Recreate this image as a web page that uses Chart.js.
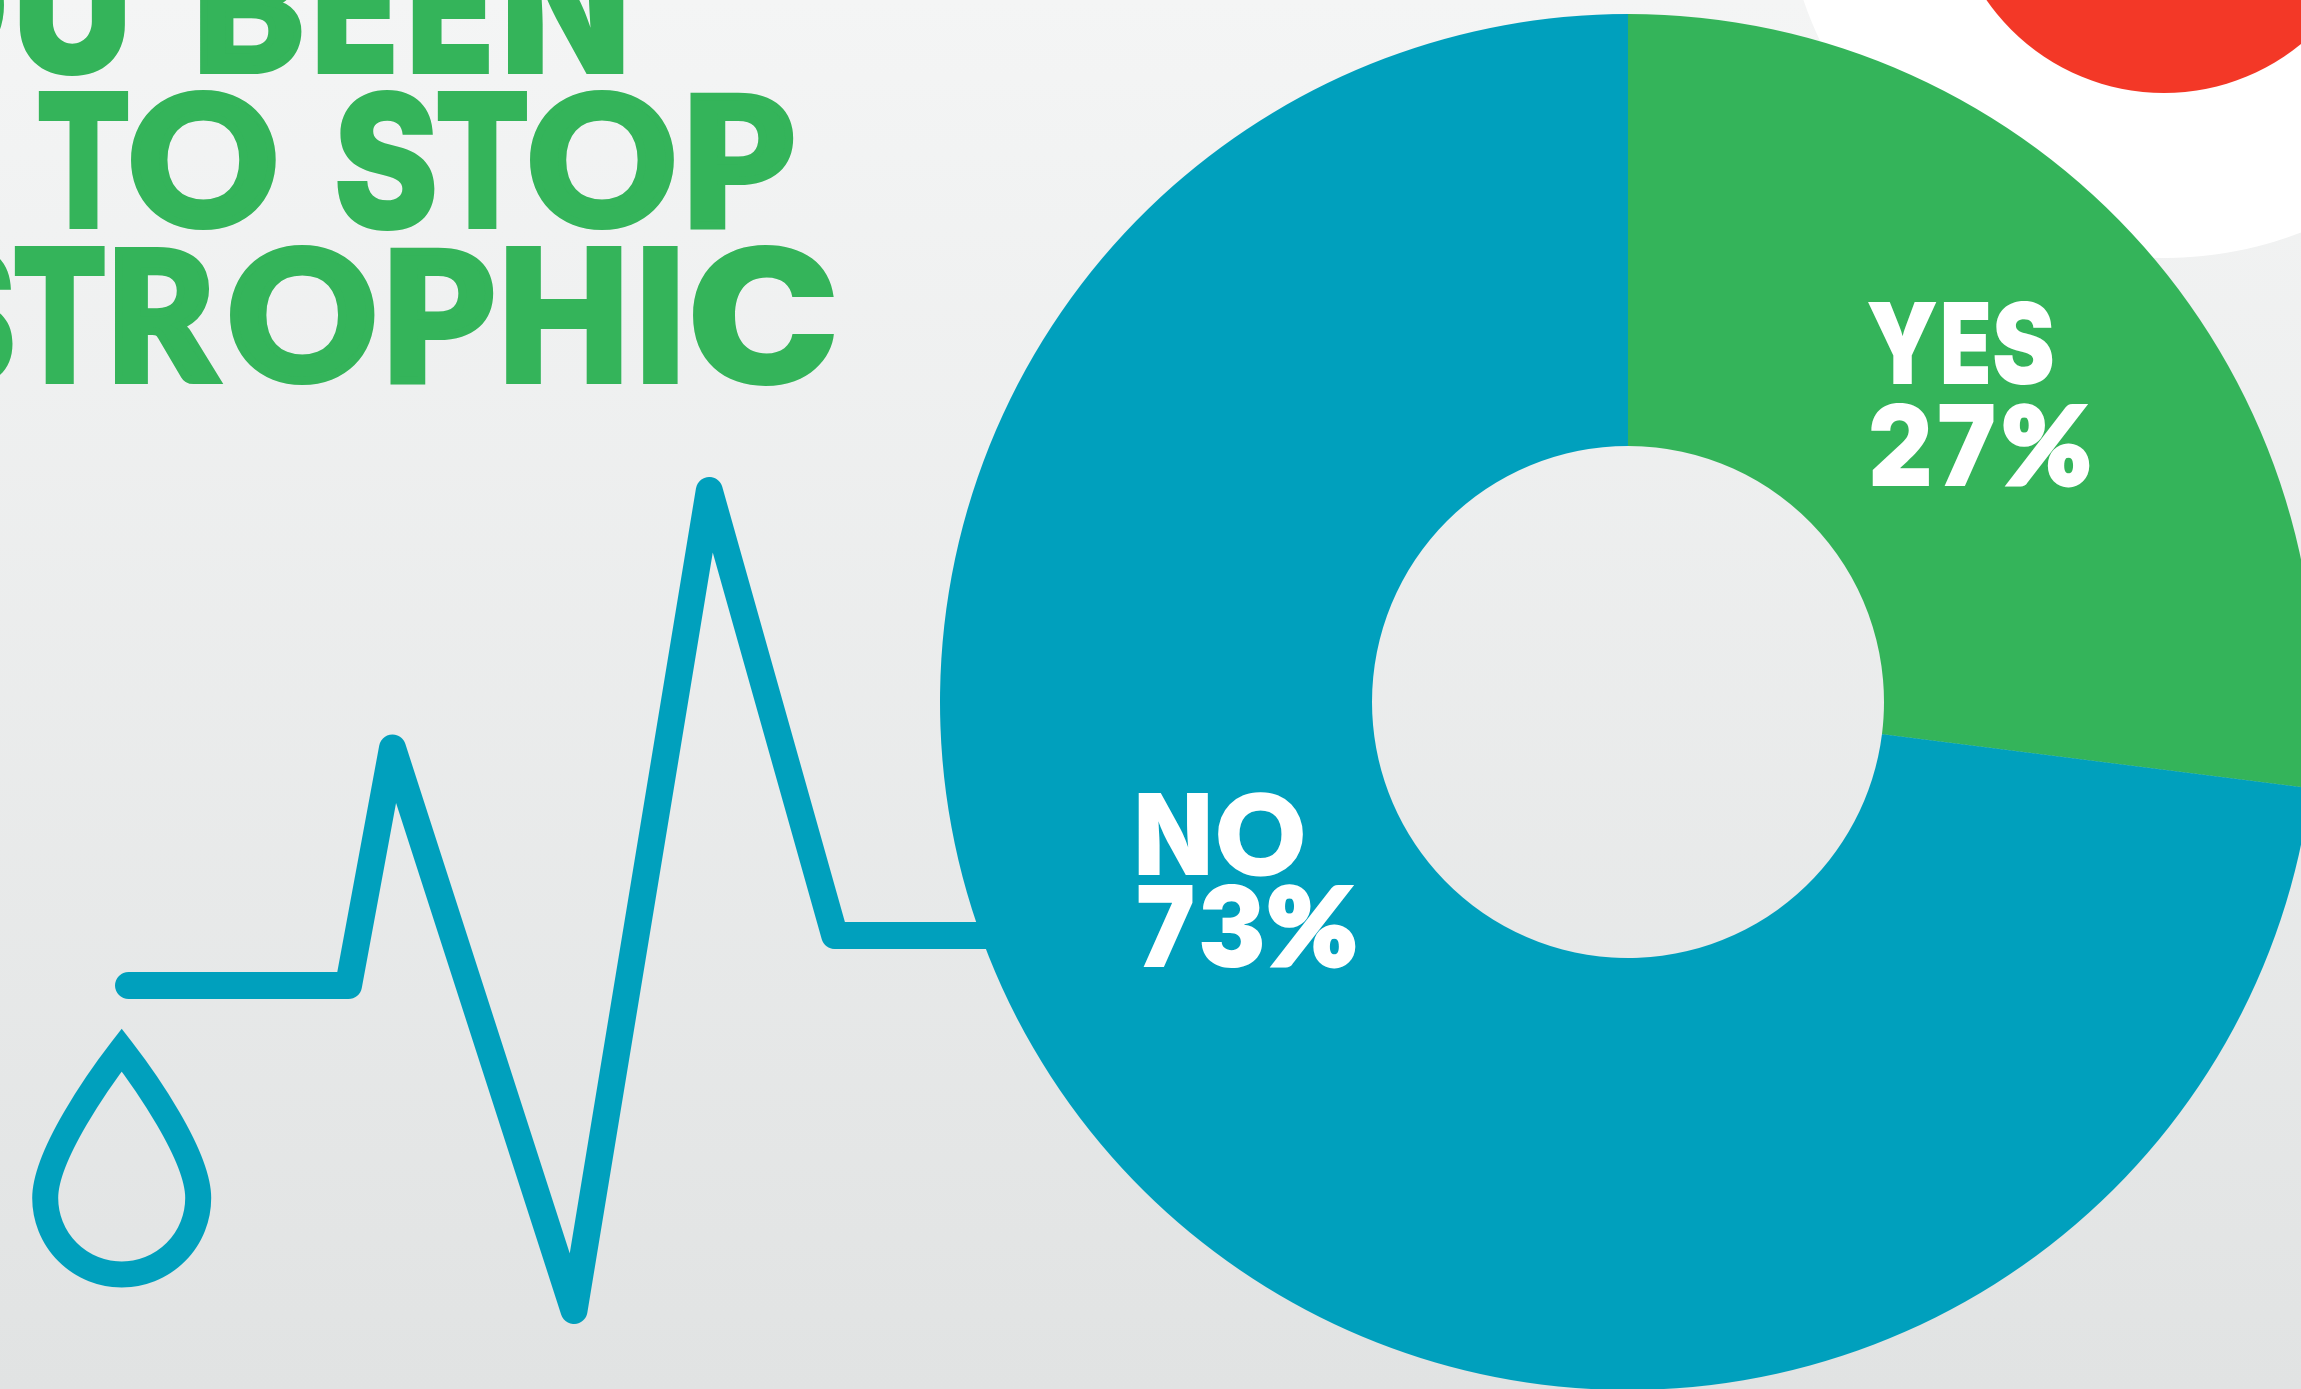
<!DOCTYPE html>
<html>
<head>
<meta charset="utf-8">
<style>
html,body{margin:0;padding:0;width:2301px;height:1389px;overflow:hidden;background:linear-gradient(180deg,#f4f5f5 0%,#e1e3e3 100%);}
#stage{position:relative;width:2301px;height:1389px;overflow:hidden;}
canvas{position:absolute;display:block;}
.txt{position:absolute;left:0;top:0;white-space:pre;font-family:Lato,sans-serif;font-weight:900;line-height:1;}
.txt span{display:inline-block;transform-origin:0 0;vertical-align:baseline;}
</style>
</head>
<body>
<div id="stage">
<canvas id="ecg" style="left:0;top:0"></canvas>
<canvas id="donut" style="left:940px;top:14px"></canvas>
</div>
<script src="https://cdn.jsdelivr.net/npm/chart.js@4"></script>
<script>
const categories = ['YES', 'NO'];
const shares = [27, 73];
const sliceColors = ['#34b45a', '#00a0bd'];
const ecgTime = [0, 100, 120, 202.5, 264, 321, 396];
const ecgSignal = [0, 0, 47.5, -65, 99, 10, 10];
const headingLines = ['YOU BEEN', 'TO STOP', 'STROPHIC'];

Chart.defaults.animation = false;
Chart.defaults.responsive = false;
Chart.defaults.maintainAspectRatio = false;
Chart.defaults.devicePixelRatio = 2;

const ecgCanvas = document.getElementById('ecg');
ecgCanvas.width = 2301; ecgCanvas.height = 1389;
const donutCanvas = document.getElementById('donut');
donutCanvas.width = 1376; donutCanvas.height = 1376;

const probe = document.createElement('canvas').getContext('2d');
const LATO_GLYPHS = 'OPRB%';
function familyFor(ch) { return LATO_GLYPHS.includes(ch) ? 'Lato' : 'Inter'; }
function inkOf(text, size, family) {
  probe.font = '900 ' + size + 'px ' + family + ', sans-serif';
  return probe.measureText(text);
}
function sizeForCap(capHeight, family) {
  return capHeight / inkOf('H', 200, family).actualBoundingBoxAscent * 200;
}

// One line of text; every glyph is stretched to the extent measured in the reference.
function placeLine(text, extents, capHeight, baseline, color) {
  const el = document.createElement('div');
  el.className = 'txt';
  el.style.fontSize = capHeight + 'px';
  el.style.color = color;
  const glyphs = [];
  let k = 0;
  Array.from(text).forEach(ch => {
    if (ch === ' ') { glyphs.push({ ch }); return; }
    const [l, r] = extents[k++];
    const family = familyFor(ch);
    const stroke = family === 'Lato' ? capHeight * 0.058 : 0;
    const fs = sizeForCap(capHeight - stroke, family);
    const m = inkOf(ch, fs, family);
    const sx = (r - l) / (m.actualBoundingBoxLeft + m.actualBoundingBoxRight + stroke);
    glyphs.push({ ch, family, stroke, fs, sx, origin: l + (m.actualBoundingBoxLeft + stroke / 2) * sx });
  });
  const solid = glyphs.filter(g => g.ch !== ' ');
  glyphs.forEach(g => {
    const s = document.createElement('span');
    s.textContent = g.ch;
    if (g.ch === ' ') {
      s.style.width = '0px';
    } else {
      const i = solid.indexOf(g);
      const next = solid[i + 1];
      s.style.fontFamily = g.family + ', sans-serif';
      s.style.fontSize = g.fs + 'px';
      s.style.webkitTextStroke = g.stroke + 'px ' + color;
      s.style.width = (next ? next.origin - g.origin : 400) + 'px';
      s.style.transform = 'scaleX(' + g.sx + ')' + (g.stroke ? ' translateY(' + (-g.stroke / 2) + 'px)' : '');
      if (i === 0) s.style.marginLeft = g.origin + 'px';
    }
    el.appendChild(s);
  });
  const mark = document.createElement('span');
  mark.style.width = '0px';
  mark.style.height = '0px';
  el.appendChild(mark);
  document.getElementById('stage').appendChild(el);
  el.style.top = (baseline - mark.getBoundingClientRect().bottom) + 'px';
}

const GREEN = '#34b45a';
placeLine(headingLines[0], [[-250, -150], [-141, 4.6], [19.5, 125.7], [200, 302.5], [317.5, 394], [412, 489], [507, 623.4]], 138, 74, GREEN);
placeLine(headingLines[1], [[39, 128.6], [129.7, 276], [337.5, 435], [438, 527.5], [529, 674.5], [690, 794]], 138, 229, GREEN);
placeLine(headingLines[2], [[-85, 12.6], [14.4, 104.5], [115, 221], [229, 375], [390, 494], [505, 621], [642, 678], [693, 835]], 138, 384, GREEN);

placeLine(categories[0], [[1868, 1937], [1944, 1989], [1995, 2053]], 82, 384, '#ffffff');
placeLine(shares[0] + '%', [[1871, 1930], [1940, 1994], [2003, 2090]], 82, 486, '#ffffff');
placeLine(categories[1], [[1139, 1209], [1218, 1304]], 82, 875, '#ffffff');
placeLine(shares[1] + '%', [[1139, 1193], [1202, 1263], [1268, 1356]], 82, 967, '#ffffff');

// Decorative target and drop icon, painted under the line on the same canvas
const decorations = {
  id: 'decorations',
  beforeDatasetsDraw(chart) {
    const ctx = chart.ctx;
    ctx.save();
    ctx.fillStyle = '#ffffff';
    ctx.beginPath(); ctx.arc(2164, -123, 381, 0, Math.PI * 2); ctx.fill();
    ctx.fillStyle = '#f33827';
    ctx.beginPath(); ctx.arc(2164, -123, 216, 0, Math.PI * 2); ctx.fill();
    ctx.strokeStyle = '#00a0bd';
    ctx.lineWidth = 26;
    ctx.miterLimit = 10;
    ctx.beginPath();
    ctx.moveTo(121.7, 1050);
    ctx.bezierCurveTo(100, 1078, 45.2, 1155, 45.2, 1198);
    ctx.arc(121.7, 1198, 76.5, Math.PI, 0, true);
    ctx.bezierCurveTo(198.2, 1155, 143.4, 1078, 121.7, 1050);
    ctx.closePath();
    ctx.stroke();
    ctx.restore();
  }
};

new Chart(ecgCanvas, {
  type: 'line',
  data: {
    datasets: [{
      data: ecgTime.map((t, i) => ({ x: t, y: ecgSignal[i] })),
      borderColor: '#00a0bd',
      borderWidth: 27,
      borderCapStyle: 'round',
      borderJoinStyle: 'round',
      pointRadius: 0,
      tension: 0,
      fill: false
    }]
  },
  options: {
    layout: { padding: 0 },
    plugins: { legend: { display: false }, tooltip: { enabled: false } },
    scales: {
      x: { type: 'linear', display: false, min: -58.41, max: 987.5 },
      y: { type: 'linear', display: false, min: -80.7, max: 197.1 }
    }
  },
  plugins: [decorations]
});

new Chart(donutCanvas, {
  type: 'doughnut',
  data: {
    labels: categories,
    datasets: [{ data: shares, backgroundColor: sliceColors, borderWidth: 0 }]
  },
  options: {
    cutout: 256,
    radius: 688,
    layout: { padding: 0 },
    plugins: { legend: { display: false }, tooltip: { enabled: false } }
  }
});
</script>
</body>
</html>
